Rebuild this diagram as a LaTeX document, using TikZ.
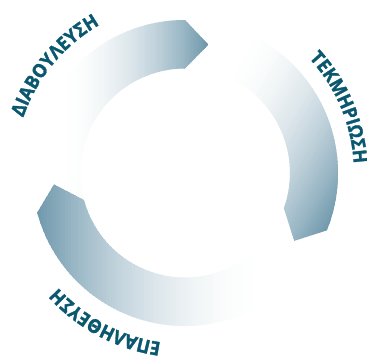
\documentclass[tikz,border=0pt]{standalone}
\usepackage{fontspec}
\newfontfamily\lblff{Open Sans}[BoldFeatures={FakeBold=1.6,FakeStretch=0.93}]
\usetikzlibrary{decorations.text}
\definecolor{segc}{RGB}{108,150,171}
\definecolor{txtc}{RGB}{10,88,112}
\newcommand\lblfont{\lblff\bfseries\fontsize{19}{19}\selectfont}
% rotation, white start, dark end
\newcommand\gradband[3]{%
  \begin{scope}[rotate=#1]
    \foreach \k [evaluate=\k as \pp using {int(round(100*((\k+0.5)/80)^2))}] in {0,...,79}{
      \fill[segc!\pp!white] ({#2+(#3-#2)/80*\k},-260) rectangle ({#2+(#3-#2)/80*(\k+1.6)},260);
    }
  \end{scope}}
\begin{document}
\begin{tikzpicture}[x=1pt,y=1pt,
  lbl/.style={decorate, decoration={text along path, text align=center, text color=txtc, text={#1}}}]
\useasboundingbox (-185,-187) rectangle (182,173);

% top segment (DIAVOULEFSI)
\begin{scope}
  \clip (195:153) arc[start angle=195,end angle=90,radius=153] -- (79.7:130.5) -- (90:104.5)
        arc[start angle=90,end angle=195,radius=104.5] -- (185:130.5) -- cycle;
  \gradband{0}{-129}{23.3}
\end{scope}

% right segment (TEKMIRIOSI)
\begin{scope}
  \clip (80:153) arc[start angle=80,end angle=-22,radius=153] -- (-31.8:128.6) -- (-19.6:105)
        arc[start angle=-19.6,end angle=80,radius=105] -- (70:129) -- cycle;
  \gradband{-30}{-19}{153.5}
\end{scope}

% bottom segment (EPALITHEFSI)
\begin{scope}
  \clip (330:153) arc[start angle=330,end angle=195,radius=153] -- (185:131.5) -- (195:104.5)
        arc[start angle=195,end angle=330,radius=104.5] -- (320:129) -- cycle;
  \gradband{180}{-85}{149.5}
\end{scope}

% labels
\path[lbl={|\lblfont|ΔΙΑΒΟΥΛΕΥΣΗ}] (180.5:171) arc[start angle=180.5,end angle=100.5,radius=171];
\path[lbl={|\lblfont|ΤΕΚΜΗΡΙΩΣΗ}] (63:169) arc[start angle=63,end angle=-17,radius=169];
\path[lbl={|\lblfont|ΕΠΑΛΗΘΕΥΣΗ}] (282:171) arc[start angle=282,end angle=202,radius=171];
\end{tikzpicture}
\end{document}
